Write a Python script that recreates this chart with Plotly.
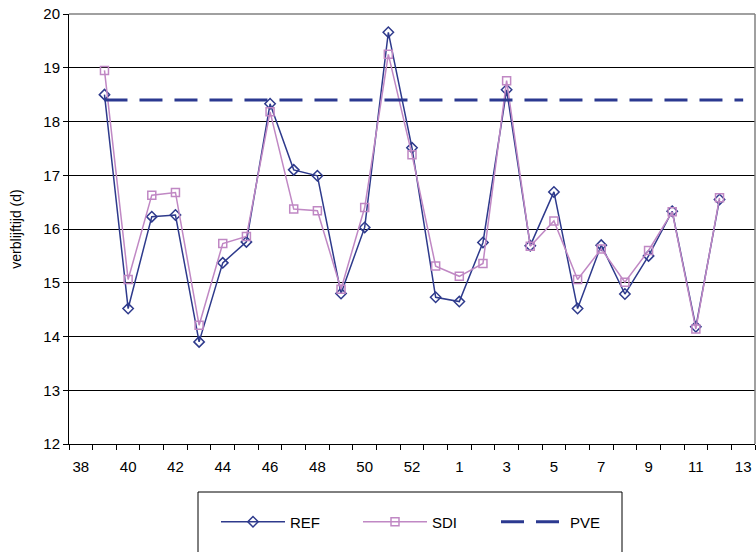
import plotly.graph_objects as go

# Week numbers (2004 week 38 through 2005 week 13)
weeks = [str(w) for w in range(38, 54)] + [str(w) for w in range(1, 14)]

# Residence time per week (days); None where no measurement exists
ref = [None, 18.50, 14.52, 16.23, 16.26, 13.90, 15.37, 15.76, 18.33, 17.10, 16.99,
       14.80, 16.03, 19.66, 17.51, 14.73, 14.65, 15.75, 18.59, 15.69, 16.69,
       14.52, 15.70, 14.79, 15.50, 16.33, 14.18, 16.55, None]
sdi = [None, 18.95, 15.06, 16.63, 16.68, 14.21, 15.73, 15.86, 18.18, 16.37, 16.34,
       14.88, 16.40, 19.25, 17.38, 15.31, 15.12, 15.36, 18.76, 15.68, 16.15,
       15.06, 15.63, 15.01, 15.60, 16.32, 14.14, 16.58, None]
pve = [None] + [18.4] * 28

y_ticks = [12, 13, 14, 15, 16, 17, 18, 19, 20]

x = list(range(len(weeks)))
label_pos = x[::2]
label_txt = weeks[::2]

REF_C = "#2E3A8C"
SDI_C = "#C088C4"
PVE_C = "#2B3990"
FONT = "Liberation Sans, Arial, sans-serif"

# plot area in pixels (for placing the legend entries)
L, R, T, B = 69, 755, 14, 444
W, H = R - L, B - T


def px_x(p):
    return (p - L) / W


def px_y(p):
    return (B - p) / H


fig = go.Figure()
fig.add_trace(go.Scatter(
    x=x, y=ref, name="REF", mode="lines+markers", legend="legend",
    line=dict(color=REF_C, width=1.5),
    marker=dict(symbol="diamond-open", size=8, color=REF_C, line=dict(width=1.5)),
))
fig.add_trace(go.Scatter(
    x=x, y=sdi, name="SDI", mode="lines+markers", legend="legend2",
    line=dict(color=SDI_C, width=1.5),
    marker=dict(symbol="square-open", size=8, color=SDI_C, line=dict(width=1.5)),
))
fig.add_trace(go.Scatter(
    x=x, y=pve, name="PVE", mode="lines", legend="legend3",
    line=dict(color=PVE_C, width=3, dash="23px,12px"),
))

legend_common = dict(
    orientation="h", xanchor="left", yanchor="middle",
    itemwidth=64, bgcolor="rgba(0,0,0,0)",
    font=dict(family=FONT, size=15, color="black"),
)

fig.update_layout(
    width=756, height=552,
    margin=dict(l=L, r=756 - R, t=T, b=552 - B),
    paper_bgcolor="white", plot_bgcolor="white",
    font=dict(family=FONT, size=15, color="black"),
    showlegend=True,
    legend=dict(x=px_x(216), y=px_y(522), **legend_common),
    legend2=dict(x=px_x(358), y=px_y(522), **legend_common),
    legend3=dict(x=px_x(496), y=px_y(522), **legend_common),
    xaxis=dict(
        range=[-0.5, len(weeks) - 0.5],
        tickvals=label_pos, ticktext=label_txt,
        ticks="", showgrid=False, zeroline=False,
        showline=True, linecolor="black", linewidth=1,
        tickfont=dict(size=15), ticklabelstandoff=9,
        minor=dict(tickvals=[i - 0.5 for i in range(len(weeks) + 1)],
                   ticks="outside", ticklen=5, tickcolor="black", showgrid=False),
    ),
    yaxis=dict(
        range=[12, 20], tickvals=y_ticks,
        ticks="outside", ticklen=5, tickcolor="black",
        showgrid=True, gridcolor="black", gridwidth=1,
        zeroline=False, showline=True, linecolor="black", linewidth=1,
        tickfont=dict(size=15),
        title=dict(text="verblijftijd (d)", font=dict(size=14), standoff=18),
    ),
    shapes=[
        # gray frame on the top and right edges of the plot area
        dict(type="line", xref="paper", yref="paper", x0=0, x1=1, y0=1, y1=1,
             line=dict(color="#808080", width=1.5), layer="above"),
        dict(type="line", xref="paper", yref="paper", x0=1, x1=1, y0=0, y1=1,
             line=dict(color="#808080", width=1.5), layer="above"),
        # legend frame
        dict(type="rect", xref="paper", yref="paper",
             x0=px_x(198), x1=px_x(622), y0=px_y(560), y1=px_y(492),
             line=dict(color="black", width=1), fillcolor="rgba(0,0,0,0)"),
    ],
)

fig.write_html("out.html")
